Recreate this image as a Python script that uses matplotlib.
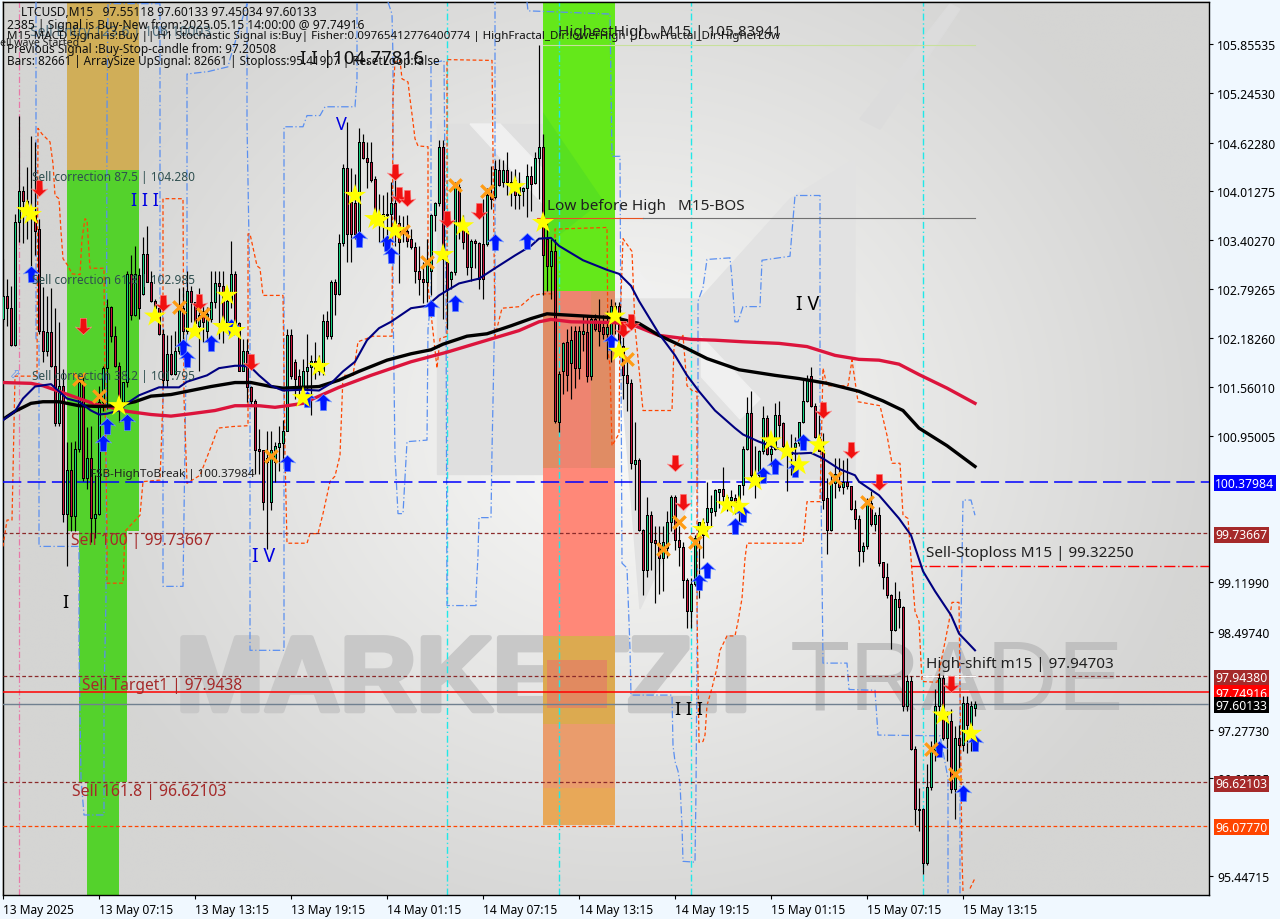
import numpy as np
import matplotlib
matplotlib.use("Agg")
import matplotlib.pyplot as plt
import matplotlib.patheffects as pe
from matplotlib import font_manager
from matplotlib.path import Path

plt.rcParams["font.family"] = ["Noto Sans", "DejaVu Sans"]

# candles, one bar per 15 minutes
opens = [
    102.42,102.70,102.55,102.09,103.63,104.02,103.89,103.71,103.71,103.54,
    102.26,102.02,102.25,101.83,101.11,101.58,99.98,100.52,99.95,100.79,
    101.63,100.42,100.67,99.92,99.98,101.38,101.80,102.57,102.20,101.83,
    101.38,101.63,102.98,102.46,102.96,102.73,103.23,102.88,102.64,102.55,
    102.23,101.65,101.98,101.73,102.02,102.55,102.27,102.76,102.63,102.33,
    102.51,102.27,102.42,102.63,102.87,102.83,102.38,102.64,102.98,102.36,
    101.77,102.01,101.57,101.39,100.79,100.77,100.63,100.13,100.63,100.81,
    100.86,101.02,102.21,101.88,101.70,101.57,101.76,101.82,101.89,101.83,
    101.76,102.39,102.20,102.88,102.73,103.36,104.31,103.88,103.86,103.51,
    104.63,104.43,104.38,104.17,103.73,103.69,103.73,103.73,103.87,103.61,
    103.54,103.52,103.42,103.32,103.02,102.92,102.88,103.02,103.71,103.86,
    104.57,103.13,102.91,103.00,104.07,103.61,103.51,103.07,103.39,103.36,
    103.35,103.35,103.96,103.94,104.28,104.13,104.28,104.13,104.15,103.96,
    104.02,104.06,104.21,104.12,104.43,104.57,103.42,103.08,103.26,101.13,
    101.76,102.13,101.86,102.27,101.80,102.23,102.25,101.70,102.42,102.36,
    102.32,102.23,102.23,102.58,102.58,102.08,101.71,101.62,100.60,100.65,
    99.77,99.27,99.96,99.65,99.61,99.42,99.55,99.87,100.19,99.65,
    99.56,99.15,98.76,99.10,99.67,99.87,99.87,100.00,100.01,100.25,
    100.29,100.19,100.15,100.17,100.08,100.34,100.79,101.24,100.46,100.46,
    100.76,101.18,100.73,100.79,101.22,101.11,100.82,100.73,100.81,100.86,
    101.13,101.39,101.70,101.33,100.94,100.77,100.18,99.77,100.36,100.37,
    100.31,100.38,100.32,100.04,99.91,99.51,99.57,100.11,99.85,99.96,
    99.37,99.19,98.96,98.53,98.91,98.81,97.57,97.89,97.03,96.29,
    96.28,95.61,96.56,97.02,97.57,97.93,97.17,97.39,96.54,97.17,
    97.08,97.61,97.33,97.55,
]
highs = [
    103.17,102.92,102.83,103.73,104.95,104.08,104.32,104.71,104.63,103.67,
    102.82,102.70,102.80,102.55,102.38,101.79,100.88,100.88,100.89,101.71,
    101.71,101.07,101.08,100.46,101.58,101.83,102.67,102.58,102.33,101.88,
    101.63,103.01,103.21,103.33,103.05,103.44,103.58,103.01,102.67,102.57,
    102.29,102.21,102.21,102.27,102.80,102.82,103.01,102.83,102.63,102.80,
    102.58,102.57,103.02,103.01,103.01,103.01,102.80,103.39,103.01,102.38,
    102.17,102.17,101.58,101.42,101.04,100.77,101.01,101.01,100.88,101.08,
    101.15,102.29,102.29,101.92,101.79,101.92,102.23,101.96,102.13,101.96,
    102.48,102.51,102.90,102.92,103.48,104.36,104.88,104.30,104.23,104.80,
    104.73,104.63,104.63,104.20,103.98,103.96,104.01,104.13,104.17,103.71,
    103.70,103.71,103.54,103.38,103.33,103.13,103.42,103.73,103.88,104.65,
    104.65,103.17,103.01,104.13,104.10,103.71,103.52,103.42,103.42,103.38,
    103.92,104.05,104.33,104.40,104.42,104.40,104.51,104.27,104.29,104.26,
    104.07,104.36,104.33,104.51,105.84,104.73,103.61,103.42,103.41,101.77,
    102.13,102.29,102.33,102.33,102.33,102.46,102.46,102.46,102.48,102.67,
    102.46,102.51,102.67,102.63,102.63,102.33,101.88,101.67,101.13,100.67,
    99.79,100.19,100.01,99.83,99.82,99.83,100.01,100.21,100.21,99.83,
    99.63,99.17,99.17,99.71,99.88,99.92,100.38,100.21,100.29,100.29,
    100.56,100.21,100.27,100.23,100.34,100.82,101.44,101.52,100.83,100.77,
    101.33,101.21,100.96,101.36,101.39,101.13,100.83,100.98,100.94,101.13,
    101.67,101.71,101.81,101.36,101.21,100.99,100.42,100.46,100.67,100.67,
    100.65,100.67,100.33,100.15,99.96,99.63,100.17,100.26,100.00,100.06,
    99.38,99.36,98.98,99.13,99.01,98.83,97.96,97.95,97.07,96.55,
    96.30,96.85,97.13,97.78,97.99,97.96,97.51,97.54,97.32,97.33,
    97.70,97.70,97.63,97.63,
]
lows = [
    102.38,102.33,102.08,102.08,103.38,103.36,103.42,103.05,103.21,102.23,
    101.88,101.95,101.82,101.08,101.08,99.88,99.32,99.76,99.76,100.75,
    100.39,100.29,99.63,99.67,99.96,101.26,101.29,102.13,101.82,101.13,
    101.26,101.57,102.40,102.45,102.42,102.71,102.88,102.63,102.51,102.21,
    101.57,101.57,101.71,101.71,101.98,102.05,102.23,102.38,102.26,101.76,
    102.13,102.13,102.38,102.55,102.17,102.11,102.33,102.55,102.29,101.76,
    101.76,101.38,101.33,100.48,100.48,100.02,99.54,100.02,100.38,100.51,
    100.63,101.01,101.67,101.42,101.42,101.38,101.51,101.21,101.67,101.71,
    101.71,102.17,102.17,102.46,102.71,103.33,103.13,103.13,103.42,103.46,
    104.42,104.05,104.13,103.71,103.38,103.33,103.33,103.46,103.33,102.86,
    103.38,103.32,103.29,102.86,102.71,102.61,102.63,102.71,103.51,103.83,
    102.42,102.29,102.79,102.96,103.42,103.29,102.96,102.89,103.05,102.79,
    102.67,103.33,103.79,103.92,104.08,104.07,103.96,103.83,103.79,103.79,
    103.83,103.69,103.76,104.11,103.92,102.71,102.76,102.67,101.11,101.00,
    101.48,101.51,101.42,101.55,101.67,102.01,101.63,101.65,102.26,102.08,
    102.17,101.92,101.88,102.23,101.96,101.42,101.26,100.54,100.02,99.76,
    98.96,99.19,99.27,98.86,98.98,99.01,99.42,99.76,99.52,99.33,
    98.92,98.55,98.55,99.07,98.92,99.42,99.76,99.82,99.95,100.05,
    100.08,100.01,100.01,99.98,99.88,100.21,100.77,100.39,100.18,100.33,
    100.73,100.71,100.58,100.77,100.92,100.71,100.26,100.46,100.58,100.83,
    101.11,101.38,101.32,100.92,100.76,100.04,99.48,99.76,100.17,100.26,
    100.23,100.29,100.02,99.79,99.33,99.38,99.54,99.83,99.76,99.33,
    99.04,98.92,98.29,98.51,98.55,97.51,97.51,97.02,96.09,96.01,
    95.47,95.58,96.52,96.89,97.51,97.15,96.89,96.48,96.16,96.76,
    97.01,96.98,97.01,97.45,
]
closes = [
    102.70,102.55,102.09,103.63,104.02,103.89,103.71,103.80,103.52,102.26,
    102.02,102.25,101.83,101.11,101.58,99.98,100.52,99.95,100.79,101.63,
    100.42,100.67,99.92,99.98,101.38,101.80,102.57,102.20,101.83,101.38,
    101.63,102.98,102.46,102.98,102.55,103.23,102.88,102.64,102.55,102.23,
    101.65,101.98,101.73,102.02,102.55,102.27,102.76,102.63,102.36,102.46,
    102.38,102.48,102.63,102.86,102.83,102.38,102.64,102.98,102.36,101.77,
    102.01,101.57,101.39,100.77,100.76,100.13,100.67,100.77,100.82,100.86,
    101.02,102.21,101.70,101.67,101.57,101.76,101.82,101.89,101.79,101.76,
    102.39,102.20,102.88,102.73,103.36,104.31,103.48,103.48,103.48,104.63,
    104.43,104.38,104.15,103.73,103.67,103.73,103.71,103.87,103.61,103.38,
    103.51,103.39,103.32,103.02,102.92,102.88,103.13,103.71,103.86,104.57,
    103.17,102.79,103.00,104.07,103.59,103.38,103.07,103.39,103.36,102.92,
    102.92,103.96,103.92,104.29,104.09,104.28,104.13,104.11,103.96,104.07,
    104.06,104.21,104.11,104.43,104.57,103.21,103.08,103.26,101.14,101.73,
    102.11,101.71,102.15,101.80,102.27,102.27,101.70,102.42,102.29,102.27,
    102.23,102.32,102.58,102.38,102.08,101.71,101.61,100.61,100.65,99.77,
    99.27,99.96,99.63,99.61,99.42,99.63,99.87,100.19,99.65,99.56,
    99.15,98.76,99.10,99.67,99.87,99.71,100.05,100.05,100.28,100.29,
    100.20,100.15,100.19,100.13,100.34,100.79,101.24,100.46,100.42,100.76,
    101.18,100.73,100.79,101.22,101.09,100.82,100.77,100.79,100.86,101.13,
    101.39,101.67,101.33,100.94,100.76,100.15,99.77,100.36,100.48,100.31,
    100.37,100.32,100.04,99.91,99.51,99.57,100.11,99.85,99.96,99.36,
    99.19,98.96,98.53,98.91,98.81,97.57,97.89,97.03,96.29,96.27,
    95.61,96.56,97.02,97.57,97.93,97.17,97.39,96.54,97.17,97.08,
    97.61,97.33,97.57,97.60,
]

# moving averages
navy_bars = [0,3,5,8,12,14,16,19,22,24,26,29,31,34,37,39,44,46,51,54,58,60,62,64,67,70,75,79,82,85,88,91,94,97,102,106,109,114,119,123,128,132,134,137,139,145,151,154,157,159,164,168,171,174,178,183,185,189,194,198,202,205,209,213,214,219,224,227,230,233,237,239,243]
navy_vals = [101.15,101.26,101.42,101.57,101.60,101.51,101.42,101.38,101.27,101.22,101.23,101.27,101.36,101.46,101.52,101.56,101.56,101.63,101.71,101.80,101.83,101.83,101.81,101.71,101.58,101.52,101.53,101.52,101.61,101.76,101.88,102.15,102.30,102.38,102.55,102.58,102.71,102.86,102.92,103.05,103.21,103.33,103.42,103.43,103.33,103.15,103.03,102.98,102.83,102.64,102.23,101.96,101.71,101.51,101.27,101.05,100.97,100.88,100.79,100.73,100.74,100.67,100.54,100.46,100.38,100.21,99.92,99.71,99.26,99.01,98.71,98.48,98.27]
black_bars = [0,3,7,10,14,19,24,28,33,37,42,46,52,58,62,67,70,79,84,89,96,102,107,110,116,121,127,132,136,139,146,153,159,164,170,176,184,193,199,206,214,220,225,229,236,243]
black_vals = [101.16,101.26,101.36,101.38,101.38,101.33,101.32,101.33,101.38,101.45,101.47,101.51,101.57,101.62,101.62,101.57,101.55,101.57,101.65,101.76,101.90,101.98,102.03,102.10,102.20,102.23,102.33,102.42,102.48,102.47,102.45,102.43,102.36,102.21,102.07,101.92,101.78,101.71,101.67,101.61,101.51,101.39,101.27,101.05,100.83,100.57]
crimson_bars = [0,7,10,14,19,23,26,31,37,42,47,53,58,64,68,71,75,79,84,92,102,111,121,129,134,137,142,153,158,164,172,178,185,194,201,208,214,219,224,229,236,243]
crimson_vals = [101.62,101.61,101.58,101.51,101.42,101.35,101.32,101.26,101.22,101.20,101.23,101.27,101.33,101.33,101.31,101.33,101.36,101.45,101.56,101.71,101.88,102.00,102.15,102.27,102.38,102.41,102.38,102.37,102.33,102.21,102.16,102.15,102.13,102.11,102.07,101.96,101.91,101.90,101.85,101.72,101.55,101.36]

# dashed envelope lines, nan breaks the line
n = np.nan
env_blue_bars = [8.25,8.25,9,9,19,19,19.5,20.25,25.25,25.25,25.75,26,26.25,39.25,39.25,40,40,45,46,46,51.25,56.25,56.75,61,61,61.75,61.75,70.25,70.25,75,76,79.25,80.5,88,88.5,88.5,n,
    96.25,97.25,97.5,97.5,98,98.75,100,101,106,106.25,107,107,110.25,110.75,111,118.25,118.25,118.75,119,122,122.25,122.5,123,123,n,
    131,131.25,136.75,151.75,152.25,154.25,154.75,156,156.75,157,167.25,167.5,168,168.75,169.25,169.5,169.75,170,173,173.25,173.5,173.75,173.75,175,176,181.75,182.25,183,183.75,185,189.25,189.75,196.75,198,204.25,204.25,205,211,211.5,218,218.75,234.25,236.25,236.25,n,
    239.25,239.25,240,242,243]
env_blue_vals = [106.38,102.17,102.13,99.57,99.57,98.29,96.67,96.21,96.21,97.67,98.92,105.00,106.36,106.36,102.67,102.42,99.07,99.07,102.67,105.48,105.51,105.57,105.67,106.36,104.86,102.67,98.27,98.27,104.82,104.82,104.96,104.96,105.07,105.07,105.42,106.38,n,
    106.38,106.23,105.67,102.67,100.70,99.98,99.98,100.88,100.90,102.29,102.67,105.61,105.65,102.67,98.83,98.83,98.96,99.46,99.93,99.93,100.77,101.38,102.67,106.38,n,
    106.38,106.27,106.26,106.23,104.45,104.45,99.36,99.30,98.29,97.71,97.71,97.08,96.88,96.76,96.61,96.33,96.08,95.63,95.62,96.51,98.26,101.42,102.64,102.81,103.16,103.18,102.92,102.38,102.38,102.57,102.57,103.15,103.20,103.96,103.96,101.42,98.11,98.11,97.78,97.77,97.21,97.20,96.67,95.23,n,
    95.23,97.92,100.15,100.15,99.96]
env_red_bars = [0,1,2.25,3,8.5,8.75,9.75,11.75,12.5,13,14,14.5,15,16.25,17.25,19.25,19.75,20.5,21,21.75,25.25,25.5,26,26,30,30.5,34.25,35,39.25,40,40,45,45.25,46,49.25,52.5,53.75,57.5,61.25,61.25,61.75,63.5,64.25,65,70,70.5,71,76,76.75,78.75,80,81.75,83,84.25,85,87.5,88.75,92.5,97.25,97.5,98,99.25,99.75,101.25,101.75,102.5,103,103.75,106.25,106.25,108.5,109.25,111,111,122.25,122.5,123,124.75,129.25,132.5,134.75,138,138,151,151.25,151.75,152.25,154,154.25,155,157.25,158,160,167.25,167.75,170,171,172.5,173.5,173.5,174,175,175.5,176,177.25,178.5,179.25,181,183,183.75,184.75,185.5,186,200,201,204.25,205,206,211.25,212.25,213.75,219.25,221,222.25,224.25,225,226.25,228,229,229.75,233.5,236.5,237.25,239,239.75,240,n,241.75,243]
env_red_vals = [99.57,99.90,99.90,101.70,101.70,104.80,104.73,104.63,104.36,103.96,103.92,103.51,103.17,103.08,102.98,102.97,103.42,103.67,103.65,103.05,103.05,101.42,99.76,99.11,99.11,99.76,99.96,100.38,100.40,101.42,103.92,103.92,101.42,100.36,100.46,100.88,101.05,101.07,101.08,103.48,103.48,103.08,103.05,102.71,102.71,100.71,99.61,99.61,99.73,99.73,99.98,100.38,100.45,100.71,101.71,101.71,102.13,102.20,102.20,105.21,105.63,105.65,105.42,105.38,105.17,104.88,104.67,104.58,104.57,102.83,101.80,102.17,102.20,105.66,105.65,104.46,102.20,102.55,102.57,102.71,102.73,102.73,103.54,103.56,102.01,101.83,100.83,100.98,102.32,103.42,103.26,102.32,101.27,101.27,102.07,102.21,101.58,101.51,101.51,98.79,97.12,97.13,97.21,97.58,97.80,98.05,98.27,98.45,98.45,98.63,98.92,99.42,99.61,99.61,100.13,100.13,101.80,101.58,101.58,101.90,101.38,101.33,100.96,100.61,100.61,99.96,99.92,98.76,98.63,97.88,97.87,98.63,98.87,98.87,95.67,95.26,n,95.29,95.42]

# signal markers
star_bars = [6,7,38,48,55,58,56,29,75,79,88,93,94,98,110,115,128,135,153,154,175,181,184,188,192,196,199,204,235,242]
star_vals = [103.77,103.72,102.45,102.26,102.32,102.27,102.71,101.33,101.43,101.82,103.96,103.67,103.65,103.52,103.22,103.58,104.07,103.62,102.45,102.01,99.78,100.09,100.07,100.39,100.89,100.76,100.59,100.84,97.46,97.23]
cross_bars = [113,100,106,121,19,24,44,50,67,156,165,169,173,208,216,232,238]
cross_vals = [104.09,103.52,103.13,104.02,101.66,101.45,102.57,102.48,100.70,101.91,99.54,99.87,99.62,100.42,100.12,97.04,96.72]
up_bars = [7,89,96,97,26,25,31,45,46,52,57,71,76,80,107,113,123,131,152,174,176,183,185,190,193,198,200,234,243,240]
up_vals = [102.98,103.42,103.37,103.21,101.08,100.86,101.13,102.07,101.92,102.11,102.32,100.61,101.42,101.38,102.55,102.62,103.38,103.39,102.13,99.13,99.27,99.82,99.98,100.46,100.58,100.54,100.87,97.04,97.11,96.48]
down_bars = [9,98,99,101,111,20,40,49,62,119,155,157,168,170,205,212,219,237]
down_vals = [104.06,104.26,103.97,103.93,103.67,102.33,102.61,102.63,101.88,103.77,102.29,102.38,100.61,100.13,101.28,100.77,100.37,97.85]

# axis labels
time_labels = ["13 May 2025","13 May 07:15","13 May 13:15","13 May 19:15","14 May 01:15","14 May 07:15","14 May 13:15","14 May 19:15","15 May 01:15","15 May 07:15","15 May 13:15"]
price_ticks = [105.85535,105.24530,104.62280,104.01275,103.40270,102.79265,102.18260,101.56010,100.95005,99.11990,98.49740,97.27730,96.66725,95.44715]
box_levels = [100.37984,99.73667,97.94380,97.74916,97.60133,96.62103,96.07770]
box_colors = ["#0000ff","#a52a2a","#a52a2a","#ff0000","#000000","#a52a2a","#ff4500"]

fig = plt.figure(figsize=(12.8, 9.2), dpi=100, facecolor="#f0f8ff")

# background layer in pixels: gradient, logo and watermark
bg = fig.add_axes([0, 0, 1, 1], zorder=0)
bg.set_axis_off()
gx, gy = np.meshgrid(np.arange(0, 1280, 8), np.arange(0, 920, 8))
dist = np.sqrt(((gx - 660) / 640.0) ** 2 + ((gy - 430) / 560.0) ** 2)
shade = np.clip(250 - 38 * dist, 213, 250) / 255.0
bg.imshow(np.dstack([shade, shade, shade * 0.995]), extent=[2, 1209, 896, 2], aspect="auto", zorder=0, interpolation="bilinear")
bg.set_xlim(0, 1280)
bg.set_ylim(920, 0)
bg.fill([437, 543, 543, 437], [125, 125, 475, 475], color="#dfdfdf", zorder=1)
bg.fill([700, 790, 855, 855, 700], [300, 200, 160, 480, 480], color="#e2e2e2", zorder=1)
bg.fill([470, 500, 760, 740], [125, 125, 400, 420], color="#f0f0f0", zorder=1)
bg.fill([615, 700, 700, 640], [300, 300, 480, 610], color="#e2e2e2", zorder=1)
bg.fill([860, 950, 960, 880], [120, 5, 10, 130], color="#dcdcdc", zorder=1)

installed = {f.name for f in font_manager.fontManager.ttflist}
wm_family = "Liberation Sans Narrow" if "Liberation Sans Narrow" in installed else "Liberation Sans"
wm_size = 93 if wm_family == "Liberation Sans Narrow" else 76
t = bg.text(176, 684, "MARKETZ.I", fontsize=wm_size, family=wm_family, fontweight="bold", color="#c8c8c8", va="center", ha="left", zorder=2)
t.set_path_effects([pe.withStroke(linewidth=4, foreground="#c8c8c8")])
bg.text(790, 684, "TRADE", fontsize=wm_size - 5, family=wm_family, color="#c0c0c0", va="center", ha="left", zorder=2)

# chart axes in bars and prices
ax = fig.add_axes([2.5 / 1280, 24 / 920, 1206.5 / 1280, 893.5 / 920], zorder=1)
ax.patch.set_alpha(0)
ax.set_xlim(-0.125, 301.5)
ax.set_ylim(95.209, 106.387)

# zones
ax.fill_between([16, 34], 104.28, 106.39, color="#d0ae58", lw=0, zorder=1)
ax.fill_between([16, 34], 99.76, 104.28, color="#54d22c", lw=0, zorder=1)
ax.fill_between([19, 31], 96.62, 99.76, color="#54d22c", lw=0, zorder=1)
ax.fill_between([21, 29], 95.21, 96.62, color="#54d22c", lw=0, zorder=1)
ax.fill_between([135, 153], 102.76, 106.39, color="#64e81a", lw=0, zorder=1)
ax.fill_between([135, 153], 96.08, 102.76, color="#ff8878", lw=0, zorder=1)
ax.fill_between([135, 153], 100.55, 102.76, color="#e08c64", lw=0, zorder=1)
ax.fill_between([139, 147], 100.55, 102.76, color="#ee8470", lw=0, zorder=1)
ax.fill_between([135, 153], 97.35, 98.45, color="#dcaa50", lw=0, zorder=1)
ax.fill_between([136, 151], 97.55, 98.15, color="#e18a60", lw=0, zorder=1)
ax.fill_between([135, 153], 96.08, 97.35, color="#ea9c6c", lw=0, zorder=1)
ax.fill_between([135, 153], 96.08, 96.55, color="#e8a858", lw=0, zorder=1)
ax.fill([135, 150, 135], [105.0, 103.9, 103.3], color="#58e020", lw=0, zorder=1)

# session separators
ax.axvline(4, color="#e878a8", lw=0.9, ls=(0, (5, 2, 1, 2)), zorder=2)
for b in [111, 139, 172, 230]:
    ax.axvline(b, color="#20e8e8", lw=1.0, ls=(0, (5, 2, 1, 2)), zorder=2)

# envelopes
ax.plot(env_blue_bars, env_blue_vals, color="#5a8ff0", lw=0.9, ls=(0, (6, 2, 1, 2)), zorder=3)
ax.plot(env_red_bars, env_red_vals, color="#ff4500", lw=0.9, ls=(0, (3, 2)), zorder=3)

# horizontal levels
ax.axhline(100.37984, color="#0000ff", lw=1.1, ls=(0, (12, 4)), zorder=3)
for lv in [99.73667, 97.94380, 96.62103]:
    ax.axhline(lv, color="#8b2a2a", lw=0.9, ls=(0, (3, 2)), zorder=3)
ax.axhline(96.07770, color="#ff4500", lw=0.9, ls=(0, (3, 2)), zorder=3)
ax.axhline(97.74916, color="#ff0000", lw=1.1, zorder=4)
ax.axhline(97.60133, color="#708090", lw=1.0, zorder=4)
ax.plot([227, 301.5], [99.32250, 99.32250], color="#ff0000", lw=1.0, ls=(0, (8, 2, 1, 2)), zorder=3)
ax.plot([135, 243], [105.83941, 105.83941], color="#c8e09c", lw=0.8, zorder=3)
ax.plot([133.5, 160], [103.68, 103.68], color="#e85020", lw=0.8, zorder=3)
ax.plot([160, 243], [103.68, 103.68], color="#707070", lw=0.8, zorder=3)
ax.plot([230, 243], [97.94703, 97.94703], color="#ffffff", lw=0.8, zorder=3)

# candles
bars = np.arange(len(opens))
o = np.array(opens)
c = np.array(closes)
ax.vlines(bars, lows, highs, color="black", lw=0.85, zorder=5)
cols = ["#14d080" if cl >= op else "#c8143c" for op, cl in zip(o, c)]
ax.bar(bars, np.maximum(np.abs(c - o), 0.02), bottom=np.minimum(o, c), width=0.72, color=cols, edgecolor="black", lw=0.7, antialiased=False, zorder=6)

# moving averages
ax.plot(crimson_bars, crimson_vals, color="#dc143c", lw=2.4, zorder=7)
ax.plot(black_bars, black_vals, color="black", lw=2.4, zorder=8)
ax.plot(navy_bars, navy_vals, color="#000080", lw=1.5, zorder=9)

# markers
arrow = [(0, 1), (1, 0.05), (0.42, 0.2), (0.38, -1), (-0.38, -1), (-0.42, 0.2), (-1, 0.05), (0, 1)]
up_arrow = Path(arrow)
down_arrow = Path([(x, -y) for x, y in arrow])
ax.scatter(up_bars, up_vals, marker=up_arrow, s=140, c="#0018ff", edgecolors="#7aa4ff", linewidths=0.4, zorder=10)
ax.scatter(down_bars, down_vals, marker=down_arrow, s=140, c="#f01010", edgecolors="#ff9090", linewidths=0.4, zorder=10)
ax.scatter(cross_bars, cross_vals, marker="x", s=80, c="#ff9c14", linewidths=2.4, zorder=11)
ax.scatter(star_bars, star_vals, marker="*", s=280, c="#ffff00", edgecolors="none", zorder=12)

# axes dressing
ax.set_xticks(np.arange(0, 241, 24))
ax.set_xticklabels(time_labels, ha="left", fontsize=8.6)
ax.yaxis.tick_right()
ax.set_yticks(price_ticks)
ax.set_yticklabels(["%.5f" % p for p in price_ticks], fontsize=8.8)
ax.tick_params(axis="both", length=3, width=0.8, pad=3, colors="black")
for s in ax.spines.values():
    s.set_color("black")
    s.set_linewidth(1.0)

# text layer in pixels
over = fig.add_axes([0, 0, 1, 1], zorder=2)
over.patch.set_alpha(0)
over.set_xlim(0, 1280)
over.set_ylim(920, 0)
over.set_axis_off()

trans = ax.get_yaxis_transform()
for lv, col in zip(box_levels, box_colors):
    # the box text is shorter than its neighbour spacing near the last price
    over.text(1.0052, lv, "%.5f" % lv, transform=trans, fontsize=8.8, color="white", va="center_baseline", ha="left",
              bbox=dict(boxstyle="square,pad=0.12", fc=col, ec="none"), zorder=5)


def label(x, y, s, size=8, color="black", **kw):
    over.text(x, y, s, fontsize=size, color=color, va="center", ha="left", **kw)


label(30, 33, "Sell Entry 123.6 | 106.10003", 10, "#4f6f7f")
label(0, 43, "ell wave Started", 7.6, "#202020")
label(21, 12, "LTCUSD,M15   97.55118 97.60133 97.45034 97.60133", 8.6, "#101010")
label(7, 25, "2385 | Signal is Buy-New from:2025.05.15 14:00:00 @ 97.74916", 8.7, "#101010")
label(7, 37, "M15 MACD Signal is:Buy || H1 Stochastic Signal is:Buy| Fisher:0.09765412776400774 | HighFractal_Dir:lowerHigh | LowFractal_Dir:HigherLow", 8.3, "#101010")
label(7, 49, "Previous Signal :Buy-Stop-candle from: 97.20508", 8.5, "#101010")
label(7, 61, "Bars: 82661 | ArraySize UpSignal: 82661 | Stoploss:95.41907 | ResetLoop:false", 8.45, "#101010")
label(300, 59, "I I |104.77816", 13.5, "#101010")
label(558, 33, "HighestHigh   M15 | 105.83941", 11, "#202020")
label(547, 207, "Low before High   M15-BOS", 11, "#202020")
label(32, 178, "Sell correction 87.5 | 104.280", 8.5, "#2f4f4f")
label(32, 281, "Sell correction 61.8 | 102.985", 8.5, "#2f4f4f")
label(32, 377, "Sell correction 38.2 | 101.795", 8.5, "#2f4f4f")
label(90, 475, "FSB-HighToBreak | 100.37984", 8.4, "#202020")
label(71, 541, "Sell 100 | 99.73667", 11.3, "#a52a2a")
label(82, 686, "Sell Target1 | 97.9438", 11.2, "#a52a2a")
label(72, 792, "Sell 161.8 | 96.62103", 11.4, "#a52a2a")
label(926, 554, "Sell-Stoploss M15 | 99.32250", 11, "#202020")
label(926, 665, "High-shift m15 | 97.94703", 11, "#202020")
label(131, 201, "I I I", 13, "#0000e0")
label(336, 125, "V", 13, "#0000e0")
label(252, 557, "I V", 14, "#0000e0")
label(62, 603, "I", 13, "black")
label(675, 710, "I I I", 13, "black")
label(796, 305, "I V", 14, "black")
label(10, 375, "\u2b00", 9, "#5a8ff0", family="DejaVu Sans")

fig.savefig("out.png", dpi=100, facecolor=fig.get_facecolor())
